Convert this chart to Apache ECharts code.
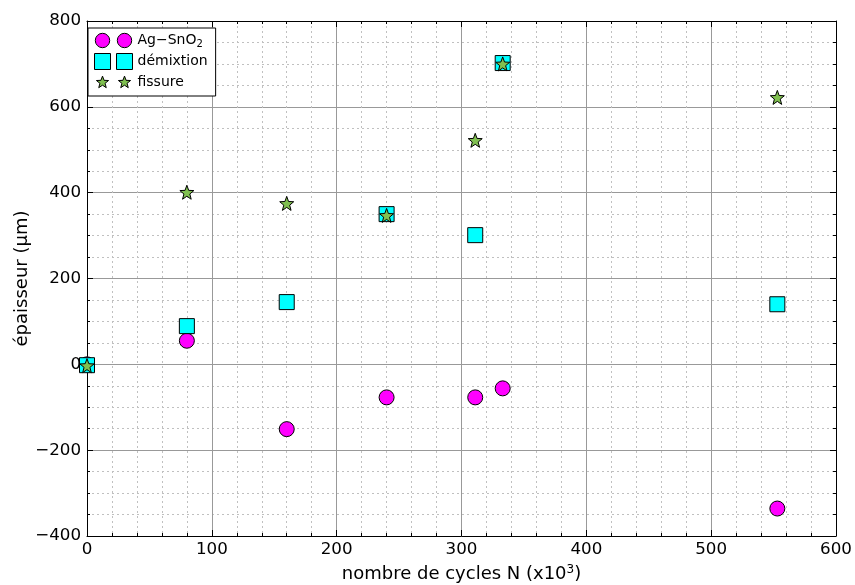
<!DOCTYPE html>
<html><head><meta charset="utf-8">
<script src="https://cdn.jsdelivr.net/npm/echarts@6/dist/echarts.min.js"></script>
<style>html,body{margin:0;padding:0;background:#fff}#c{width:855px;height:585px}</style>
</head><body><div id="c"></div>
<script>
const cycles = [0, 80, 160, 240, 311, 333, 553];
const agSnO2 = [0, 55, -151, -77, -77, -56, -336];
const demixtion = [-2, 89, 145, 350, 301, 702, 140];
const fissure = [-3, 401, 375, 347, 522, 700, 622];
const xTicks = [0, 100, 200, 300, 400, 500, 600];
const yTicks = [-400, -200, 0, 200, 400, 600, 800];

const pair = (a) => a.map((v, i) => [cycles[i], v]);
const F = 'DejaVu Sans';
const starP = (cx, s) => {
  const pts = [];
  for (let k = 0; k < 10; k++) {
    const r = (k % 2 === 0 ? 10 : 4.2) * s;
    const a = -Math.PI / 2 + k * Math.PI / 5;
    pts.push((cx + r * Math.cos(a)).toFixed(2) + ',' + (10 + r * Math.sin(a)).toFixed(2));
  }
  return 'M' + pts.join('L') + 'Z';
};
const iconCircle = 'path://M1,10A9,9 0 1,0 19,10A9,9 0 1,0 1,10ZM28.5,10A9,9 0 1,0 46.5,10A9,9 0 1,0 28.5,10ZM0,0ZM47.5,20Z';
const iconSquare = 'path://M0,0L20,0L20,20L0,20ZM27.5,0L47.5,0L47.5,20L27.5,20Z';
const iconStar = 'path://M0,0ZM47.5,20Z' + starP(10, 0.8) + starP(37.5, 0.8);

const starSym = 'path://' + starP(10, 1);

const common = {
  axisLine: {show: true, onZero: false, lineStyle: {color: '#000', width: 1}},
  axisTick: {show: true, inside: true, length: 6, lineStyle: {color: '#000'}},
};
const chart = echarts.init(document.getElementById('c'));
chart.setOption({
  animation: false,
  grid: {left: 87, right: 19, top: 21, bottom: 49, containLabel: false, outerBoundsMode: 'none'},
  legend: {
    left: 88, top: 28, orient: 'vertical',
    backgroundColor: '#fff', borderColor: '#000', borderWidth: 1,
    padding: [4, 8, 5, 6], itemGap: 4, itemWidth: 38, itemHeight: 16,
    itemStyle: {borderWidth: 1, borderColor: '#000'},
    textStyle: {fontFamily: F, fontSize: 14, color: '#000',
      rich: {sub: {fontFamily: F, fontSize: 10, verticalAlign: 'bottom', padding: [7, 0, 0, 0]}}},
    formatter: (n) => n === 'Ag−SnO2' ? 'Ag−SnO{sub|2}' : n,
    data: [
      {name: 'Ag−SnO2', icon: iconCircle},
      {name: 'démixtion', icon: iconSquare},
      {name: 'fissure', icon: iconStar}
    ]
  },
  xAxis: [{
    type: 'value', min: 0, max: 600, interval: 100, position: 'bottom',
    name: 'nombre de cycles N (x10{sup|3})', nameLocation: 'middle', nameGap: 28,
    nameMoveOverlap: false,
    nameTextStyle: {fontFamily: F, fontSize: 18, color: '#000',
      rich: {sup: {fontFamily: F, fontSize: 12, verticalAlign: 'top', padding: [0, 0, 9, 0]}}},
    ...common,
    minorTick: {show: true, splitNumber: 5, length: 3, lineStyle: {color: '#000'}},
    axisLabel: {fontFamily: F, fontSize: 16.7, color: '#000', margin: 5},
    splitLine: {show: true, lineStyle: {color: '#999', width: 1}},
    minorSplitLine: {show: true, lineStyle: {color: '#c0c0c0', type: [2, 3], width: 1}}
  }, {
    type: 'value', min: 0, max: 600, interval: 100, position: 'top',
    ...common,
    minorTick: {show: true, splitNumber: 5, length: 3, lineStyle: {color: '#000'}},
    axisLabel: {show: false}, splitLine: {show: false}
  }],
  yAxis: [{
    type: 'value', min: -400, max: 800, interval: 200, position: 'left',
    name: 'épaisseur (µm)', nameLocation: 'middle', nameGap: 56,
    nameMoveOverlap: false,
    nameTextStyle: {fontFamily: F, fontSize: 18, color: '#000'},
    ...common,
    minorTick: {show: true, splitNumber: 4, length: 3, lineStyle: {color: '#000'}},
    axisLabel: {fontFamily: F, fontSize: 16.7, color: '#000', margin: 6,
      formatter: (v) => v < 0 ? '−' + Math.abs(v) : String(v)},
    splitLine: {show: true, lineStyle: {color: '#999', width: 1}},
    minorSplitLine: {show: true, lineStyle: {color: '#c0c0c0', type: [2, 3], width: 1}}
  }, {
    type: 'value', min: -400, max: 800, interval: 200, position: 'right',
    ...common,
    minorTick: {show: true, splitNumber: 4, length: 3, lineStyle: {color: '#000'}},
    axisLabel: {show: false}, splitLine: {show: false}
  }],
  series: [
    {name: 'Ag−SnO2', type: 'scatter', symbol: 'circle', symbolSize: 15, clip: true,
     itemStyle: {color: '#ff00ff', borderColor: '#000', borderWidth: 1, opacity: 1},
     data: pair(agSnO2), z: 3},
    {name: 'démixtion', type: 'scatter', symbol: 'rect', symbolSize: 15, clip: true,
     itemStyle: {color: '#00ffff', borderColor: '#000', borderWidth: 1, opacity: 1},
     data: pair(demixtion), z: 4},
    {name: 'fissure', type: 'scatter', symbol: starSym, symbolSize: 14, clip: true,
     itemStyle: {color: '#80c050', borderColor: '#000', borderWidth: 1, opacity: 1},
     data: pair(fissure), z: 5}
  ]
});
</script></body></html>
